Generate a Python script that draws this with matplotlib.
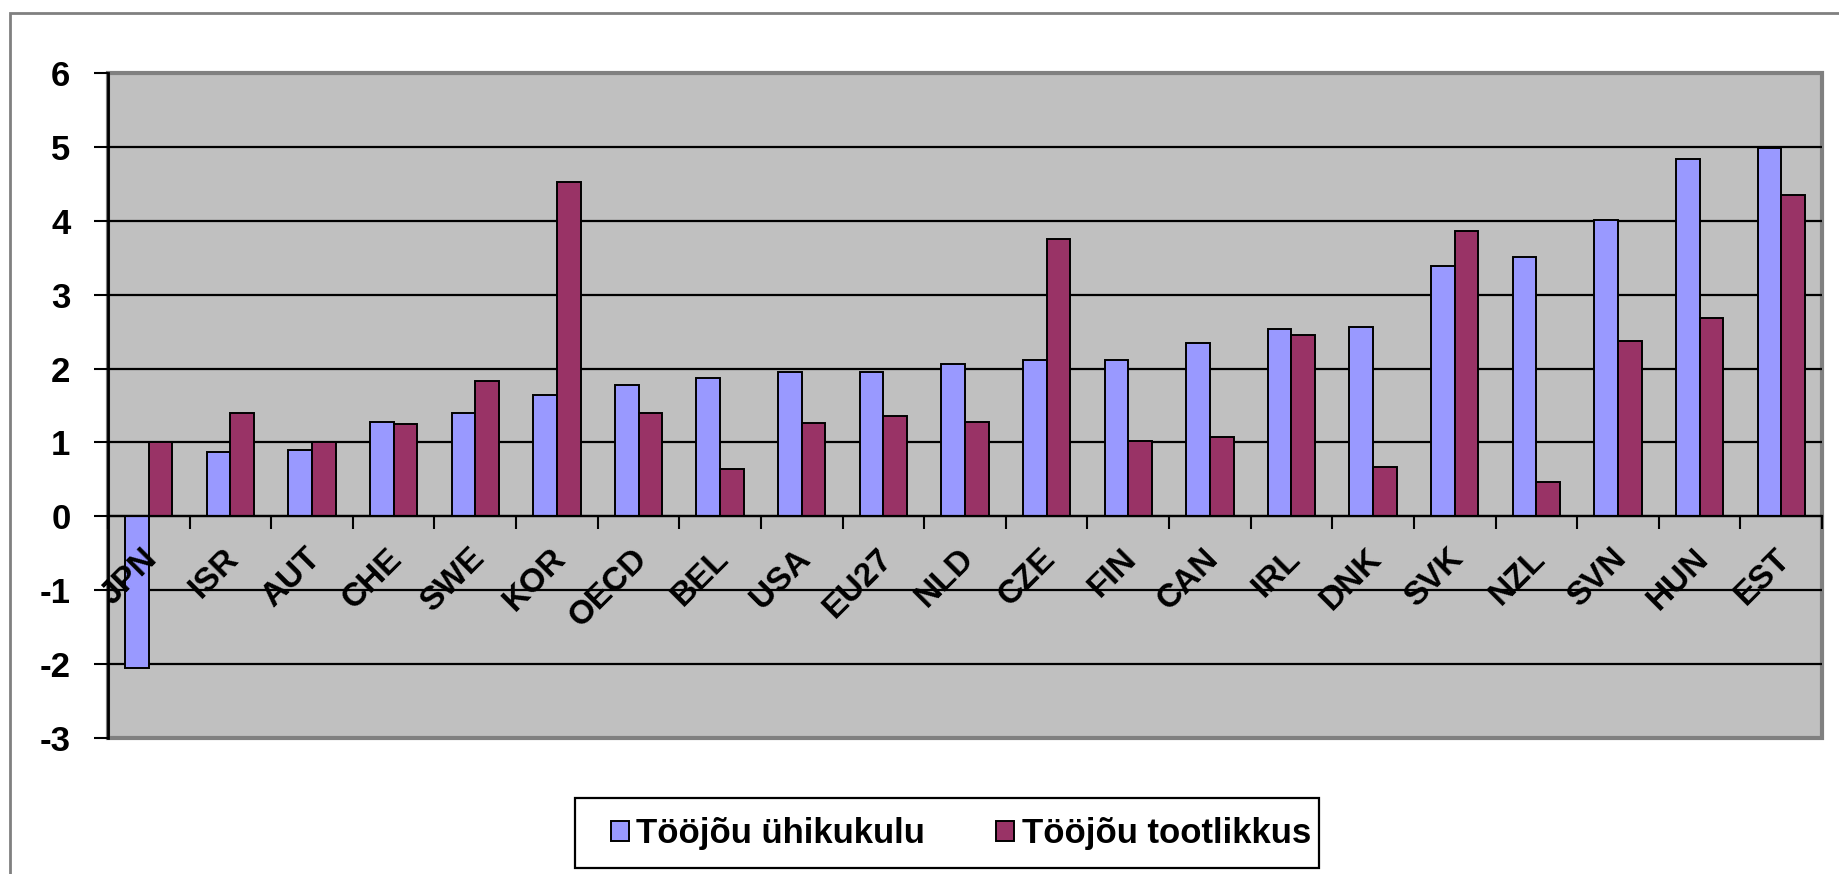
import numpy as np
import matplotlib
matplotlib.use('Agg')
import matplotlib.pyplot as plt
from matplotlib.patches import Rectangle
from matplotlib.transforms import ScaledTranslation

countries = ["JPN", "ISR", "AUT", "CHE", "SWE", "KOR", "OECD", "BEL", "USA", "EU27",
             "NLD", "CZE", "FIN", "CAN", "IRL", "DNK", "SVK", "NZL", "SVN", "HUN", "EST"]
unit_cost = [-2.05, 0.87, 0.9, 1.28, 1.4, 1.64, 1.78, 1.87, 1.96, 1.96,
             2.06, 2.11, 2.11, 2.34, 2.53, 2.56, 3.39, 3.51, 4.01, 4.83, 4.98]
productivity = [1.0, 1.4, 1.0, 1.25, 1.83, 4.52, 1.4, 0.64, 1.26, 1.36,
                1.28, 3.75, 1.02, 1.07, 2.45, 0.67, 3.86, 0.47, 2.37, 2.68, 4.35]
series_names = ["Tööjõu ühikukulu", "Tööjõu tootlikkus"]
y_ticks = [-3, -2, -1, 0, 1, 2, 3, 4, 5, 6]

plt.rcParams['font.family'] = ['Liberation Sans', 'DejaVu Sans']
plt.rcParams['font.weight'] = 'bold'
plt.rcParams['axes.unicode_minus'] = False

W, H, DPI = 1840, 874, 100
fig = plt.figure(figsize=(W / DPI, H / DPI), dpi=DPI)
ax = fig.add_axes([108 / W, 1 - 738 / H, (1822 - 108) / W, (738 - 73) / H])

# outer chart frame (runs off the right and bottom edges)
fig.patches.append(Rectangle((10 / W, -0.2), 1.5, 1 - 13 / H + 0.2, transform=fig.transFigure,
                             fill=False, edgecolor='#808080', linewidth=2))

x = np.arange(len(countries))
bw = 0.29
ax.bar(x - bw / 2, unit_cost, bw, color='#9999FF', edgecolor='black', linewidth=1.4,
       label=series_names[0], zorder=3)
ax.bar(x + bw / 2, productivity, bw, color='#993366', edgecolor='black', linewidth=1.4,
       label=series_names[1], zorder=3)

ax.set_facecolor('#C0C0C0')
ax.patch.set_edgecolor('#808080')
ax.patch.set_linewidth(3)
ax.set_xlim(-0.5, len(countries) - 0.5)
ax.set_ylim(-3, 6)

ax.set_yticks(y_ticks)
ax.tick_params(axis='y', length=10, width=1.5, pad=17, labelsize=25)
ax.yaxis.grid(True, color='black', linewidth=1.6)
for gl in ax.get_ygridlines()[::len(y_ticks) - 1]:
    gl.set_visible(False)
ax.set_axisbelow(True)
ax.xaxis.set_zorder(4)  # category labels sit on top of the bars (JPN)

for s in ['top', 'right']:
    ax.spines[s].set_visible(False)
ax.spines['left'].set_linewidth(2)
ax.spines['bottom'].set_position(('data', 0))
ax.spines['bottom'].set_linewidth(1.6)
ax.spines['bottom'].set_zorder(4)

# category labels centred, tick marks between categories
ax.set_xticks(x)
ax.set_xticklabels(countries, rotation=45, ha='right', va='center', rotation_mode='anchor',
                   fontsize=24)
ax.set_xticks(np.arange(-0.5, len(countries), 1), minor=True)
ax.tick_params(axis='x', which='major', length=0, pad=27)
ax.tick_params(axis='x', which='minor', length=9, width=1.5)
shift = ScaledTranslation(4 / DPI, 0, fig.dpi_scale_trans)
for lab in ax.get_xticklabels():
    lab.set_transform(lab.get_transform() + shift)

# legend entries without frame, box drawn separately (Excel pads it unevenly)
leg = fig.legend(loc='center', bbox_to_anchor=(961 / W, 1 - 834 / H), ncol=2,
                 fontsize=25, frameon=False, handlelength=0.52, handleheight=0.52,
                 handletextpad=0.22, columnspacing=2.05)
fig.patches.append(Rectangle((575 / W, 1 - 868 / H), 744 / W, 70 / H, transform=fig.transFigure,
                             fill=False, edgecolor='black', linewidth=1.6))

fig.savefig('out.png', dpi=DPI)
